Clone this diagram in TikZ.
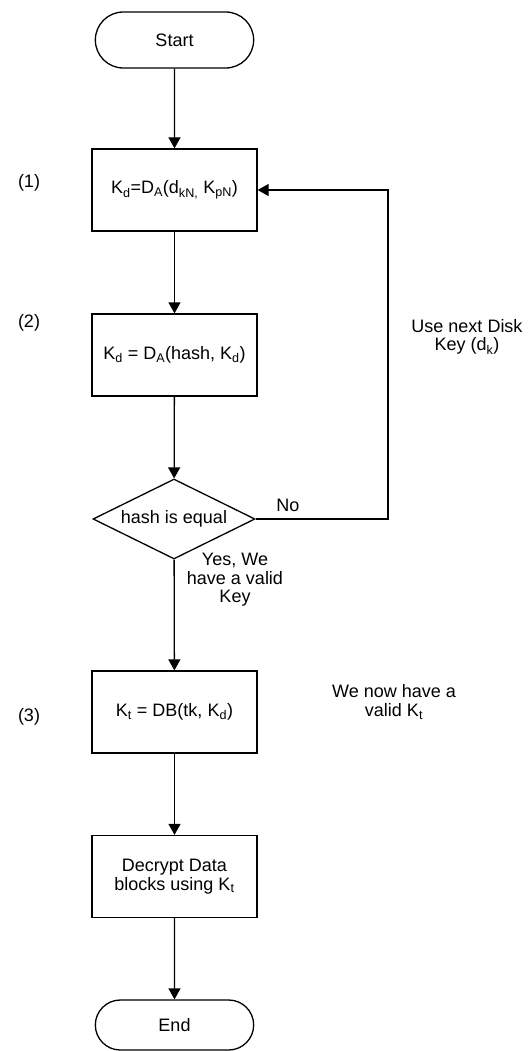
\documentclass[tikz,border=0pt]{standalone}
\usepackage{fontspec}
\setmainfont{Liberation Sans}
\usepackage{tikz}
\usetikzlibrary{shapes.geometric}
\usetikzlibrary{shapes.misc}
\usetikzlibrary{arrows.meta}

\begin{document}
\begin{tikzpicture}[x=1pt,y=-1pt,
	font=\fontsize{18}{18.5}\selectfont,
	line width=1.3pt,
	term/.style={draw, rounded rectangle, minimum width=165pt, minimum height=56pt},
	proc/.style={draw, rectangle, minimum width=165pt, minimum height=82pt, align=center},
	test/.style={draw, diamond, shape aspect=2, minimum width=162pt, minimum height=80pt, inner sep=0pt},
	flow/.style={-{Triangle[length=11pt,width=12pt]}},
	note/.style={align=center}]
	\useasboundingbox (0,0) rectangle (532,1051);
	\node[term] (start) at (174.5,40){Start};
	\node[proc] (kd1) at (174.5,190){K\textsubscript{d}=D\textsubscript{A}(d\textsubscript{kN,} K\textsubscript{pN})};%1
	\node[proc] (kd2) at (174.5,355){K\textsubscript{d} = D\textsubscript{A}(hash, K\textsubscript{d})};%2
	\node[test] (check) at (174,519){hash is equal};
	\node[proc] (kt) at (174.5,712){K\textsubscript{t} = DB(tk, K\textsubscript{d})};%3
	\node[proc] (decrypt) at (174.5,876.5){Decrypt Data\\blocks using K\textsubscript{t}};
	\node[term, minimum height=50pt] (end) at (174.5,1025){End};
	\node (step1) at (29,183){(1)};
	\node (step2) at (29,323){(2)};
	\node (step3) at (29,717){(3)};
	\node[note] (nextkey) at (467,337){Use next Disk\\Key (d\textsubscript{k})};
	\node (no) at (288,505){No};
	\node[note] (yes) at (235,580){Yes, We\\have a valid\\Key};
	\node[note] (valid) at (394,702){We now have a\\valid K\textsubscript{t}};
	\coordinate (turn) at (388,519);
	\draw[flow] (start) -- (kd1);
	\draw[flow] (kd1) -- (kd2);
	\draw[flow] (kd2) -- (check);
	\draw[flow] (check) -- (kt);
	\draw[flow] (kt) -- (decrypt);
	\draw[flow] (decrypt) -- (end);
	\draw[flow] (check.east) -- (turn) |- (kd1.east);
\end{tikzpicture}
\end{document}
